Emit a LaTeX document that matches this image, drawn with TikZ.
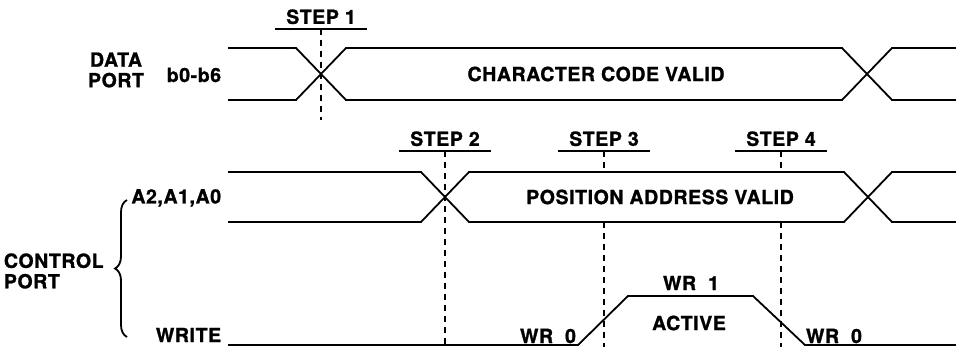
\documentclass[tikz,border=0pt]{standalone}
\usepackage{fontspec}
\setmainfont{TeX Gyre Heros}[LetterSpace=3, BoldFeatures={FakeBold=1.2}]
\usetikzlibrary{decorations.pathreplacing}

\begin{document}
\begin{tikzpicture}[x=1pt, y=-1pt, line width=1.8pt,
        lbl/.style={font=\bfseries\fontsize{19.5}{20.5}\selectfont, inner sep=0pt},
        steplbl/.style={lbl, anchor=south, inner xsep=10pt, inner ysep=4pt},
        stepline/.style={line width=1.1pt, dash pattern=on 6pt off 5pt}]
        \useasboundingbox (0,0) rectangle (956,347);

        % data port
        \draw (228,48) -- (296,48) -- (346,100) -- (842,100) -- (892,48) -- (956,48);
        \draw (228,100) -- (296,100) -- (346,48) -- (842,48) -- (892,100) -- (956,100);

        % control port, address bus
        \draw (228,172) -- (421,172) -- (469,222) -- (844,222) -- (892,172) -- (956,172);
        \draw (228,222) -- (421,222) -- (469,172) -- (844,172) -- (892,222) -- (956,222);

        % control port, write strobe
        \draw (228,345) -- (578,345) -- (628,296) -- (753,296) -- (805,345) -- (956,345);

        \node[lbl, align=center] (data) at (116,70) {DATA\\PORT};
        \node[lbl, anchor=east] (bits) at (222,75) {b0-b6};
        \node[lbl] (code) at (596,74) {CHARACTER CODE VALID};

        \node[lbl, anchor=east] (addr) at (222,198) {A2,A1,A0};
        \node[lbl] (pos) at (660,197) {POSITION ADDRESS VALID};
        \node[lbl, align=left, anchor=west] (ctrl) at (3,271) {CONTROL\\PORT};
        \node[lbl, anchor=east] (wr) at (222,335) {WRITE};

        \node[lbl] (wr0a) at (548,336) {WR\ \ 0};
        \node[lbl] (wr1) at (691,283) {WR\ \ 1};
        \node[lbl] (act) at (689,323) {ACTIVE};
        \node[lbl] (wr0b) at (834,336) {WR\ \ 0};

        \draw[line width=1.8pt, decorate, decoration={brace, amplitude=12pt}]
            (127,337) -- (127,200);

        % steps
        \node[steplbl] (s1) at (321,29) {STEP 1};
        \node[steplbl] (s2) at (445,151) {STEP 2};
        \node[steplbl] (s3) at (604,151) {STEP 3};
        \node[steplbl] (s4) at (781,151) {STEP 4};

        \coordinate (e1) at (321,120);
        \coordinate (e2) at (445,347);
        \coordinate (e3) at (604,347);
        \coordinate (e4) at (781,347);

        \foreach \s in {1,2,3,4} {
            \draw[line width=1.1pt] (s\s.south west) -- (s\s.south east);
        }
        \draw[stepline] (s1.south) -- (e1);
        \draw[stepline] (s2.south) -- (e2);
        \draw[stepline] (s3.south) -- (604,172) (604,222) -- (e3);
        \draw[stepline] (s4.south) -- (781,172) (781,222) -- (e4);
    \end{tikzpicture}
\end{document}
